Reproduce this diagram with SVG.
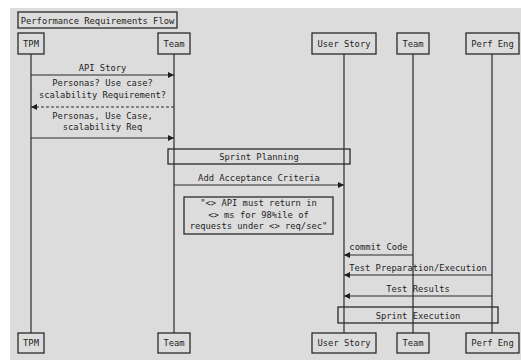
<svg xmlns="http://www.w3.org/2000/svg" width="521" height="360" viewBox="0 0 521 360">
  <style>
    text { font-family: "DejaVu Sans Mono", "Liberation Mono", monospace; font-size: 8.8px; fill: #1e1e1e; text-anchor: middle; }
    .box { fill: none; stroke: #2a2a2a; stroke-width: 1.3; }
    .actor { fill: #dcdcdc; stroke: #2a2a2a; stroke-width: 1.3; }
    .life { stroke: #2a2a2a; stroke-width: 1.2; fill: none; }
    .msg { stroke: #2a2a2a; stroke-width: 1.2; fill: none; marker-end: url(#head); }
    .dash { stroke-dasharray: 3 2; }
  </style>
  <defs>
    <marker id="head" viewBox="0 0 8 8" refX="8" refY="4" markerWidth="6" markerHeight="6" markerUnits="userSpaceOnUse" orient="auto">
      <path d="M0,0 L8,4 L0,8 Z" fill="#1e1e1e"/>
    </marker>
  </defs>

  <!-- canvas -->
  <rect x="0" y="0" width="521" height="360" fill="#ffffff"/>
  <rect x="10" y="8" width="511" height="352" fill="#dcdcdc"/>

  <!-- title -->
  <g id="title">
    <rect class="box" x="18" y="12" width="159" height="16"/>
    <text x="97.5" y="23.5">Performance Requirements Flow</text>
  </g>

  <!-- lifelines and messages -->
  <g id="connectors">
    <line class="life" x1="31" y1="54" x2="31" y2="333"/>
    <line class="life" x1="174" y1="54" x2="174" y2="333"/>
    <line class="life" x1="344" y1="54" x2="344" y2="333"/>
    <line class="life" x1="413" y1="54" x2="413" y2="333"/>
    <line class="life" x1="492" y1="54" x2="492" y2="333"/>

    <line class="msg" x1="31" y1="75" x2="174" y2="75"/>
    <line class="msg dash" x1="174" y1="107" x2="31" y2="107"/>
    <line class="msg" x1="31" y1="138" x2="174" y2="138"/>
    <line class="msg" x1="174" y1="185" x2="344" y2="185"/>
    <line class="msg" x1="413" y1="255" x2="344" y2="255"/>
    <line class="msg" x1="492" y1="275" x2="344" y2="275"/>
    <line class="msg" x1="492" y1="296" x2="344" y2="296"/>
  </g>

  <!-- message labels -->
  <g id="labels">
    <text x="102.5" y="71">API Story</text>
    <text x="102.5" y="86">Personas? Use case?</text>
    <text x="102.5" y="98">scalability Requirement?</text>
    <text x="102.5" y="119">Personas, Use Case,</text>
    <text x="102.5" y="130">scalability Req</text>
    <text x="259" y="181">Add Acceptance Criteria</text>
    <text x="378.5" y="250">commit Code</text>
    <text x="418" y="271">Test Preparation/Execution</text>
    <text x="418" y="292">Test Results</text>
  </g>

  <!-- phases -->
  <g id="sprint-planning">
    <rect class="box" x="168" y="149" width="182" height="15"/>
    <text x="259" y="160">Sprint Planning</text>
  </g>
  <g id="sprint-execution">
    <rect class="box" x="338" y="307" width="160" height="16"/>
    <text x="418" y="318.5">Sprint Execution</text>
  </g>

  <!-- note -->
  <g id="note">
    <rect class="box" x="184" y="197" width="149" height="37"/>
    <text x="258.5" y="206">"&lt;&gt; API must return in</text>
    <text x="258.5" y="218">&lt;&gt; ms for 98%ile of</text>
    <text x="258.5" y="229">requests under &lt;&gt; req/sec"</text>
  </g>

  <!-- participants, top -->
  <g id="tpm-top"><rect class="actor" x="18" y="33" width="26" height="21"/><text x="31" y="46.5">TPM</text></g>
  <g id="team-top"><rect class="actor" x="158" y="33" width="32" height="21"/><text x="174" y="46.5">Team</text></g>
  <g id="userstory-top"><rect class="actor" x="312" y="33" width="64" height="21"/><text x="344" y="46.5">User Story</text></g>
  <g id="team2-top"><rect class="actor" x="397" y="33" width="32" height="21"/><text x="413" y="46.5">Team</text></g>
  <g id="perfeng-top"><rect class="actor" x="466" y="33" width="53" height="21"/><text x="492.5" y="46.5">Perf Eng</text></g>

  <!-- participants, bottom -->
  <g id="tpm-bottom"><rect class="actor" x="18" y="333" width="26" height="20"/><text x="31" y="346">TPM</text></g>
  <g id="team-bottom"><rect class="actor" x="158" y="333" width="32" height="20"/><text x="174" y="346">Team</text></g>
  <g id="userstory-bottom"><rect class="actor" x="312" y="333" width="64" height="20"/><text x="344" y="346">User Story</text></g>
  <g id="team2-bottom"><rect class="actor" x="397" y="333" width="32" height="20"/><text x="413" y="346">Team</text></g>
  <g id="perfeng-bottom"><rect class="actor" x="466" y="333" width="53" height="20"/><text x="492.5" y="346">Perf Eng</text></g>
</svg>
